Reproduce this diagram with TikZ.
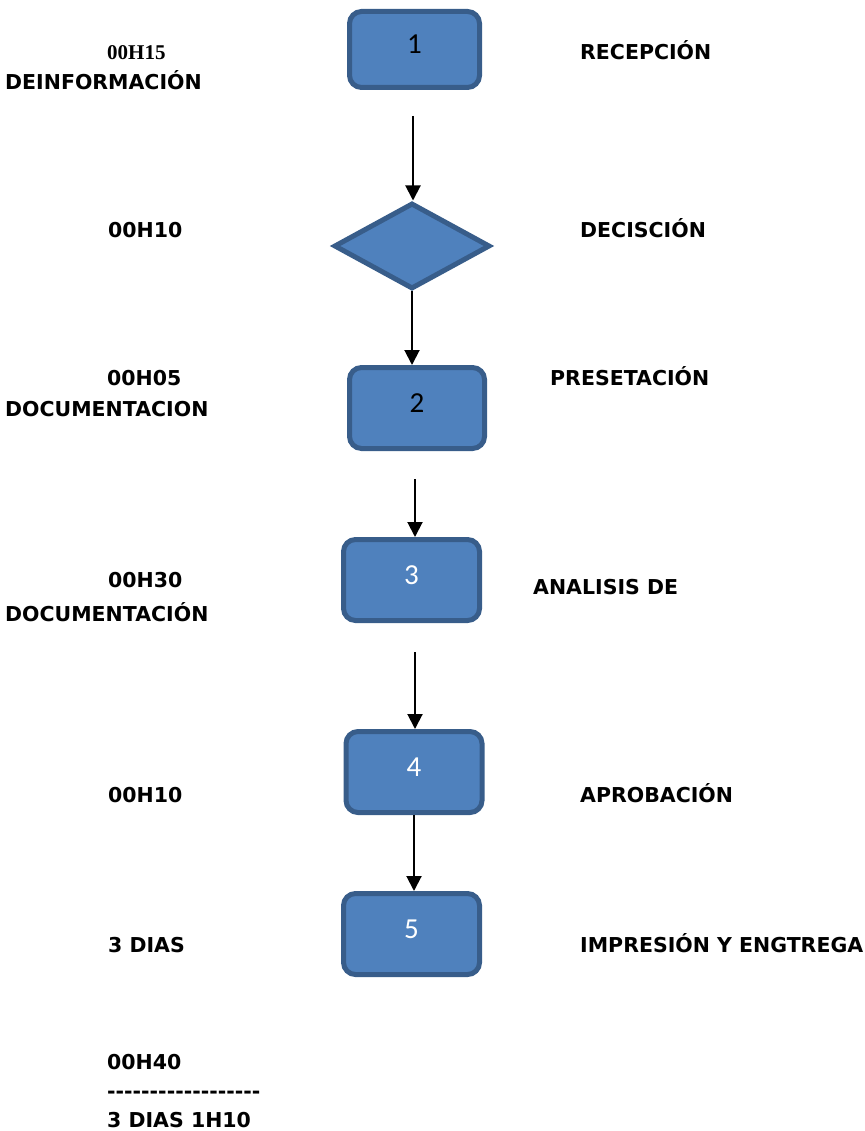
\documentclass[tikz,border=0pt]{standalone}
\usepackage{fontspec}
\usetikzlibrary{shapes.geometric,arrows.meta}
\newfontfamily\lblfont{DejaVu Sans}
\newfontfamily\numfont{Carlito}
\newfontfamily\serifbold{Liberation Serif}
\definecolor{boxfill}{HTML}{4F81BD}
\definecolor{boxline}{HTML}{385D8A}
\tikzset{
  procbox/.style={draw=boxline, fill=boxfill, line width=5pt, rounded corners=12pt,
    inner sep=0pt, text depth=10pt, font=\numfont\fontsize{29}{31}\selectfont},
  decbox/.style={draw=boxline, fill=boxfill, line width=5pt, diamond, inner sep=0pt,
    minimum width=156pt, minimum height=86pt},
  flow/.style={line width=2pt, -{Triangle[width=15pt,length=15pt]}},
  lbl/.style={anchor=west, inner sep=0pt, text height=14.6pt, text depth=0pt,
    font=\lblfont\bfseries\fontsize{20.5}{22}\selectfont},
  slbl/.style={anchor=west, inner sep=0pt, text height=14pt, text depth=0pt,
    font=\serifbold\bfseries\fontsize{21}{23}\selectfont}
}
\begin{document}
\begin{tikzpicture}[x=1pt,y=-1pt]
\useasboundingbox (0,0) rectangle (864,1131);

% process steps
\node[procbox, minimum width=130pt, minimum height=76pt] (p1) at (414.5,49.5) {1};
\node[decbox] (dec) at (412,246) {};
\node[procbox, minimum width=135pt, minimum height=81pt] (p2) at (417,408) {2};
\node[procbox, minimum width=136pt, minimum height=81pt, text=white] (p3) at (411.5,580) {3};
\node[procbox, minimum width=136pt, minimum height=81pt, text=white] (p4) at (414,772) {4};
\node[procbox, minimum width=136pt, minimum height=81pt, text=white] (p5) at (411.5,934) {5};

% connectors
\coordinate (a1) at (413,116);
\coordinate (a3) at (415,479);
\coordinate (a4) at (415,652);
\draw[flow] (a1) -- (a1 |- dec.north);
\draw[flow] (dec.south) -- (dec.south |- p2.north);
\draw[flow] (a3) -- (a3 |- p3.north);
\draw[flow] (a4) -- (a4 |- p4.north);
\draw[flow] (p4.south) -- (p4.south |- p5.north);

% times (left column)
\node[slbl] (t1) at (107,53) {00H15};
\node[lbl] (t1b) at (5,82) {DEINFORMACIÓN};
\node[lbl] (t2) at (108,230) {00H10};
\node[lbl] (t3) at (107,378) {00H05};
\node[lbl] (t3b) at (5,409) {DOCUMENTACION};
\node[lbl] (t4) at (108,580) {00H30};
\node[lbl] (t4b) at (5,614) {DOCUMENTACIÓN};
\node[lbl] (t5) at (108,795) {00H10};
\node[lbl] (t6) at (108,945) {3 DIAS};

% activities (right column)
\node[lbl] (r1) at (580,52) {RECEPCIÓN};
\node[lbl] (r2) at (580,230) {DECISCIÓN};
\node[lbl] (r3) at (550,378) {PRESETACIÓN};
\node[lbl] (r4) at (533,587) {ANALISIS DE};
\node[lbl] (r5) at (580,795) {APROBACIÓN};
\node[lbl] (r6) at (580,945) {IMPRESIÓN Y ENGTREGA};

% totals
\node[lbl] (s1) at (107,1062) {00H40};
\node[lbl] (s2) at (107,1091) {------------------};
\node[lbl] (s3) at (107,1120) {3 DIAS 1H10};
\end{tikzpicture}
\end{document}
